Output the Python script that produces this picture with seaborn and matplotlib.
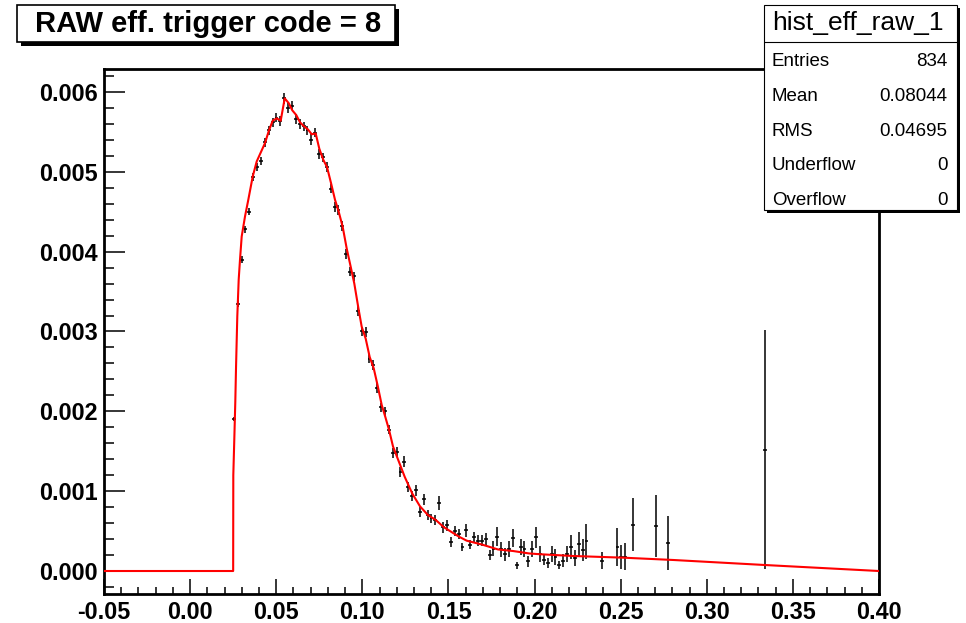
import matplotlib
matplotlib.use("Agg")
import matplotlib.pyplot as plt
from matplotlib.patches import Rectangle
from matplotlib.lines import Line2D
from matplotlib.ticker import MultipleLocator, FormatStrFormatter
import seaborn as sns

# Histogram points (bin centres, contents, errors)
x_pts = [0.02538, 0.02763, 0.02988, 0.03213, 0.03438, 0.03663, 0.03888, 0.04113, 0.04338, 0.04563,
         0.04788, 0.05013, 0.05238, 0.05463, 0.05688, 0.05913, 0.06138, 0.06363, 0.06588, 0.06813,
         0.07038, 0.07263, 0.07488, 0.07713, 0.07938, 0.08163, 0.08388, 0.08613, 0.08838, 0.09063,
         0.09288, 0.09513, 0.09738, 0.09963, 0.10188, 0.10413, 0.10638, 0.10863, 0.11088, 0.11313,
         0.11538, 0.11763, 0.11988, 0.12213, 0.12438, 0.12663, 0.12888, 0.13113, 0.13338, 0.13563,
         0.13788, 0.14013, 0.14238, 0.14463, 0.14688, 0.14913, 0.15138, 0.15363, 0.15588, 0.15813,
         0.16038, 0.16263, 0.16488, 0.16713, 0.16938, 0.17163, 0.17388, 0.17613, 0.17838, 0.18063,
         0.18288, 0.18513, 0.18738, 0.18963, 0.19188, 0.19413, 0.19638, 0.19863, 0.20088, 0.20313,
         0.20538, 0.20763, 0.20988, 0.21213, 0.21438, 0.21663, 0.21888, 0.22113, 0.22338, 0.22563,
         0.22788, 0.23013, 0.23913, 0.24813, 0.25038, 0.25263, 0.25713, 0.27063, 0.27738, 0.33363]
y_pts = [0.00190, 0.00335, 0.00390, 0.00428, 0.00450, 0.00493, 0.00506, 0.00514, 0.00537, 0.00552,
         0.00562, 0.00568, 0.00564, 0.00592, 0.00580, 0.00583, 0.00566, 0.00560, 0.00557, 0.00552,
         0.00540, 0.00549, 0.00522, 0.00518, 0.00506, 0.00479, 0.00456, 0.00452, 0.00432, 0.00397,
         0.00375, 0.00369, 0.00326, 0.00300, 0.00299, 0.00266, 0.00258, 0.00229, 0.00205, 0.00200,
         0.00177, 0.00148, 0.00149, 0.00124, 0.00137, 0.00105, 0.00094, 0.00101, 0.00074, 0.00090,
         0.00070, 0.00066, 0.00064, 0.00085, 0.00055, 0.00057, 0.00036, 0.00050, 0.00046, 0.00030,
         0.00051, 0.00033, 0.00042, 0.00038, 0.00038, 0.00040, 0.00020, 0.00028, 0.00043, 0.00027,
         0.00021, 0.00028, 0.00041, 0.00007, 0.00030, 0.00028, 0.00012, 0.00028, 0.00042, 0.00021,
         0.00014, 0.00010, 0.00021, 0.00018, 0.00007, 0.00013, 0.00021, 0.00030, 0.00016, 0.00034,
         0.00026, 0.00037, 0.00013, 0.00030, 0.00017, 0.00018, 0.00058, 0.00056, 0.00035, 0.00152]
y_err = [0.000025, 0.00004, 0.00004, 0.000045, 0.000045, 0.00005, 0.00005, 0.00005, 0.000055, 0.00006,
         0.00006, 0.00006, 0.00006, 0.000065, 0.00006, 0.00006, 0.00006, 0.00006, 0.00006, 0.00006,
         0.00007, 0.00006, 0.00006, 0.00006, 0.00006, 0.00006, 0.00006, 0.00006, 0.00006, 0.00006,
         0.00006, 0.00006, 0.00006, 0.00006, 0.00006, 0.00006, 0.00006, 0.00006, 0.00006, 0.00006,
         0.00006, 0.00006, 0.00006, 0.00006, 0.00007, 0.00006, 0.00006, 0.00007, 0.00006, 0.00007,
         0.00006, 0.00006, 0.00006, 0.00009, 0.00007, 0.00007, 0.00006, 0.00006, 0.00006, 0.00005,
         0.00008, 0.00006, 0.00007, 0.00007, 0.00007, 0.00008, 0.00006, 0.00009, 0.00012, 0.00009,
         0.00008, 0.00010, 0.00011, 0.00004, 0.00010, 0.00010, 0.00007, 0.00010, 0.00013, 0.00010,
         0.00007, 0.00006, 0.00010, 0.00010, 0.00005, 0.00008, 0.00010, 0.00015, 0.00010, 0.00015,
         0.00014, 0.00022, 0.00011, 0.00024, 0.00015, 0.00017, 0.00033, 0.00039, 0.00034, 0.00150]
half_bin = 0.001125

# Red curve
curve_x = [-0.05, 0.0250, 0.02508, 0.02566, 0.02624, 0.02665, 0.02705, 0.02740, 0.02821, 0.02897,
           0.02995, 0.03187, 0.03379, 0.03634, 0.03867, 0.04348, 0.04581, 0.04796, 0.05028, 0.05260,
           0.05493, 0.05725, 0.05934, 0.06166, 0.06381, 0.06613, 0.06845, 0.07060, 0.07292, 0.07501,
           0.07734, 0.07948, 0.08181, 0.08413, 0.08628, 0.08860, 0.09092, 0.09325, 0.09534, 0.09766,
           0.09963, 0.10195, 0.10428, 0.10660, 0.10892, 0.11125, 0.11334, 0.11548, 0.11781, 0.12013,
           0.12228, 0.12460, 0.12669, 0.12901, 0.13348, 0.13813, 0.14260, 0.14725, 0.15166, 0.15613,
           0.16060, 0.16966, 0.17878, 0.18766, 0.19678, 0.20316, 0.22250, 0.25153, 0.28057, 0.33381,
           0.40]
curve_y = [0.0, 0.0, 0.00120, 0.00165, 0.00212, 0.00254, 0.00289, 0.00319, 0.00365, 0.00390,
           0.00419, 0.00444, 0.00465, 0.00494, 0.00513, 0.00536, 0.00552, 0.00564, 0.00567, 0.00564,
           0.00592, 0.00586, 0.00577, 0.00571, 0.00562, 0.00557, 0.00553, 0.00547, 0.00548, 0.00529,
           0.00515, 0.00506, 0.00486, 0.00465, 0.00450, 0.00431, 0.00404, 0.00381, 0.00360, 0.00330,
           0.00306, 0.00291, 0.00268, 0.00254, 0.00232, 0.00208, 0.00193, 0.00177, 0.00156, 0.00143,
           0.00131, 0.00118, 0.00108, 0.00097, 0.00081, 0.00070, 0.00064, 0.00055, 0.00049, 0.00043,
           0.00038, 0.00033, 0.00027, 0.00025, 0.00022, 0.00021, 0.000188, 0.000167, 0.000138, 0.000075,
           0.0]

title = "RAW eff. trigger code = 8"
stats_name = "hist_eff_raw_1"
stats_labels = ["Entries", "Mean", "RMS", "Underflow", "Overflow"]
stats_values = ["834", "0.08044", "0.04695", "0", "0"]

sns.set_style("white")
plt.rcParams['font.family'] = ['Liberation Sans', 'DejaVu Sans']
plt.rcParams['font.weight'] = 'bold'
plt.rcParams['text.color'] = 'black'
plt.rcParams['xtick.color'] = 'black'
plt.rcParams['ytick.color'] = 'black'
plt.rcParams['xtick.labelcolor'] = 'black'
plt.rcParams['ytick.labelcolor'] = 'black'

W, H = 966, 623
fig = plt.figure(figsize=(W / 100, H / 100), dpi=100)
ax = fig.add_axes([104 / W, 29 / H, 775 / W, 524.7 / H])

ax.errorbar(x_pts, y_pts, xerr=half_bin, yerr=y_err, fmt='none',
            ecolor='black', elinewidth=1.1, capsize=0, zorder=2)
sns.lineplot(x=curve_x, y=curve_y, color='red', linewidth=1.5,
             estimator=None, sort=False, ax=ax, zorder=3)

ax.set_xlim(-0.05, 0.40)
ax.set_ylim(-0.000288, 0.006284)
ax.xaxis.set_major_locator(MultipleLocator(0.05))
ax.xaxis.set_minor_locator(MultipleLocator(0.01))
ax.yaxis.set_major_locator(MultipleLocator(0.001))
ax.yaxis.set_minor_locator(MultipleLocator(0.0002))
ax.xaxis.set_major_formatter(FormatStrFormatter('%.2f'))
ax.yaxis.set_major_formatter(FormatStrFormatter('%.3f'))
ax.tick_params(axis='x', which='major', direction='in', length=10.8, width=1.1,
               labelsize=16.8, pad=5, top=False, bottom=True)
ax.tick_params(axis='x', which='minor', direction='in', length=5, width=1.1,
               top=False, bottom=True)
ax.tick_params(axis='y', which='major', direction='in', length=15, width=1.1,
               labelsize=16.8, pad=4.3, right=False, left=True)
ax.tick_params(axis='y', which='minor', direction='in', length=7.2, width=1.1,
               right=False, left=True)
for s in ax.spines.values():
    s.set_linewidth(2.0)
    s.set_color('black')
ax.set_xlabel('')
ax.set_ylabel('')


def box(x0, y0, x1, y1, shadow, lw):
    fig.add_artist(Rectangle(((x0 + shadow) / W, 1 - (y1 + shadow) / H), (x1 - x0) / W, (y1 - y0) / H,
                             transform=fig.transFigure, facecolor='black', edgecolor='none', zorder=5))
    fig.add_artist(Rectangle((x0 / W, 1 - y1 / H), (x1 - x0) / W, (y1 - y0) / H,
                             transform=fig.transFigure, facecolor='white', edgecolor='black',
                             linewidth=lw, zorder=6))


# title box
box(17, 5, 395, 42, 4, 1.2)
fig.text(208 / W, 1 - 24 / H, title, ha='center', va='center', fontsize=21,
         fontweight='bold', color='black', zorder=7)

# stats box
box(764, 5, 957, 210, 3, 0.8)
fig.add_artist(Line2D([764 / W, 957 / W], [1 - 41.7 / H, 1 - 41.7 / H], transform=fig.transFigure,
                      color='black', linewidth=0.8, zorder=7))
fig.text(858 / W, 1 - 23 / H, stats_name, ha='center', va='center', fontsize=19,
         fontweight='normal', color='black', zorder=7)
for k, (lab, val) in enumerate(zip(stats_labels, stats_values)):
    yy = 1 - (61.7 + 34.75 * k) / H
    fig.text(771.7 / W, yy, lab, ha='left', va='center', fontsize=13.5, fontweight='normal',
             color='black', zorder=7)
    fig.text(947.7 / W, yy, val, ha='right', va='center', fontsize=13.5, fontweight='normal',
             color='black', zorder=7)

fig.savefig('out.png', dpi=100)
